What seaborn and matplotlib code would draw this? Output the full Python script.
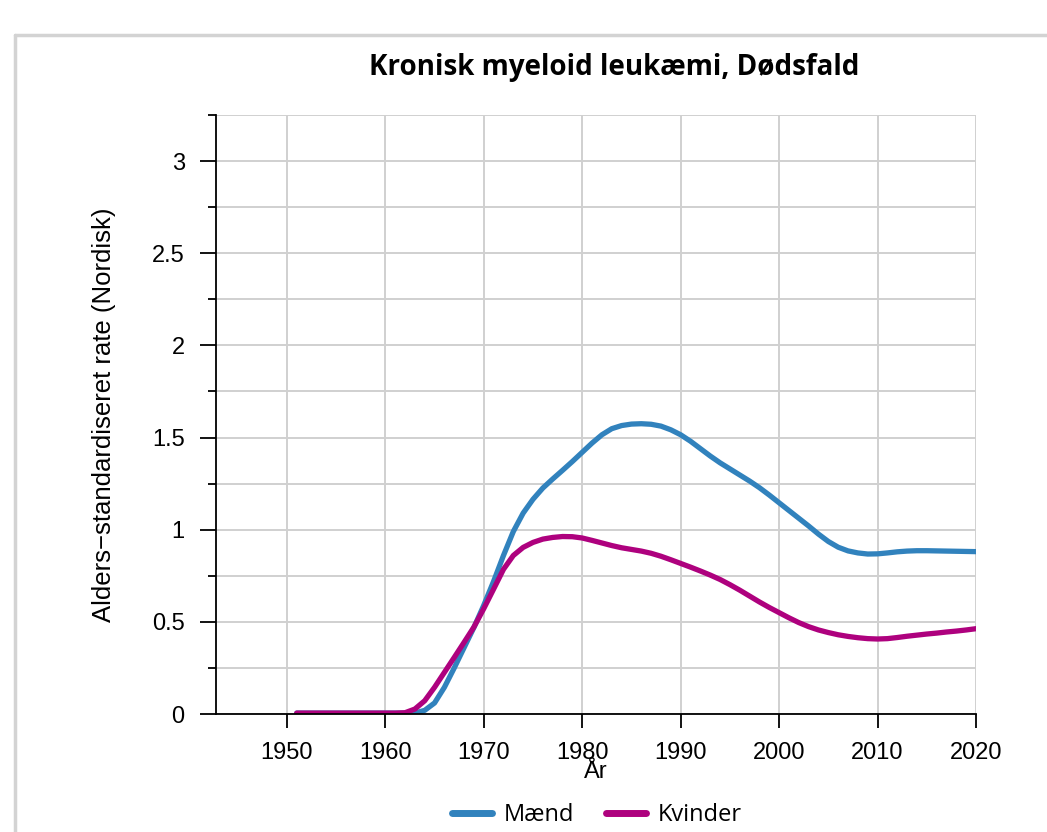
import pandas as pd
import seaborn as sns
import matplotlib.pyplot as plt
from matplotlib.lines import Line2D
from matplotlib.ticker import MultipleLocator

# Data
years = list(range(1951, 2021))

maend = [0.005] * 12 + [  # 1951-1962
    0.005, 0.02, 0.06, 0.145, 0.25, 0.36, 0.47, 0.59,            # 1963-1970
    0.72, 0.86, 0.99, 1.09, 1.165, 1.226, 1.275, 1.322, 1.37, 1.42,  # 1971-1980
    1.47, 1.515, 1.548, 1.565, 1.573, 1.575, 1.572, 1.562, 1.542, 1.515,  # 1981-1990
    1.48, 1.44, 1.40, 1.363, 1.33, 1.297, 1.264, 1.228, 1.188, 1.146,  # 1991-2000
    1.104, 1.062, 1.02, 0.976, 0.936, 0.905, 0.885, 0.874, 0.868, 0.869,  # 2001-2010
    0.874, 0.88, 0.884, 0.886, 0.886, 0.885, 0.884, 0.883, 0.882, 0.881,  # 2011-2020
]

kvinder = [0.005] * 11 + [  # 1951-1961
    0.007, 0.027, 0.072, 0.145, 0.226, 0.307, 0.389, 0.472, 0.572,  # 1962-1970
    0.678, 0.785, 0.86, 0.904, 0.931, 0.949, 0.958, 0.963, 0.962, 0.955,  # 1971-1980
    0.942, 0.928, 0.914, 0.902, 0.893, 0.884, 0.872, 0.856, 0.837, 0.817,  # 1981-1990
    0.797, 0.776, 0.754, 0.73, 0.702, 0.672, 0.64, 0.608, 0.578, 0.55,  # 1991-2000
    0.522, 0.496, 0.474, 0.456, 0.442, 0.43, 0.421, 0.414, 0.409, 0.407,  # 2001-2010
    0.409, 0.415, 0.422, 0.428, 0.434, 0.439, 0.445, 0.45, 0.456, 0.463,  # 2011-2020
]

groups = ["Mænd", "Kvinder"]
colors = ["#3182bd", "#ae017e"]

df = pd.concat([
    pd.DataFrame({"År": years, "rate": maend, "Køn": groups[0]}),
    pd.DataFrame({"År": years, "rate": kvinder, "Køn": groups[1]}),
])

sns.set_style("white")
plt.rcParams["font.family"] = ["Liberation Sans", "DejaVu Sans"]
plt.rcParams["text.color"] = "black"
plt.rcParams["axes.labelcolor"] = "black"

fig = plt.figure(figsize=(10.47, 8.32), dpi=100)
ax = fig.add_axes([0.2063, 0.1418, 0.7259, 0.72])

sns.lineplot(data=df, x="År", y="rate", hue="Køn", palette=dict(zip(groups, colors)),
             linewidth=3.8, ax=ax, legend=False)

ax.set_xlim(1942.8, 2020)
ax.set_ylim(0, 3.25)
ax.xaxis.set_major_locator(MultipleLocator(10))
ax.yaxis.set_minor_locator(MultipleLocator(0.25))
ax.set_yticks([0, 0.5, 1, 1.5, 2, 2.5, 3])
ax.set_yticklabels(["0", "0.5", "1", "1.5", "2", "2.5", "3"])

ax.grid(True, which="both", color="#d0d0d0", linewidth=1.4)
ax.grid(False, which="minor", axis="x")
ax.set_axisbelow(True)

for s in ["top", "right"]:
    ax.spines[s].set_visible(False)
for s in ["left", "bottom"]:
    ax.spines[s].set_color("black")
    ax.spines[s].set_linewidth(1.3)

ax.tick_params(axis="x", which="major", direction="out", length=10, width=1.3,
               colors="black", labelsize=17, pad=10, bottom=True)
ax.tick_params(axis="y", which="major", direction="out", length=11.5, width=1.3,
               colors="black", labelsize=17, pad=11, left=True)
ax.tick_params(axis="y", which="minor", direction="out", length=6, width=1.3,
               colors="black", left=True)

ax.set_xlabel("År", fontsize=17, labelpad=-2)
ax.set_ylabel("Alders−standardiseret rate (Nordisk)", fontsize=18.5, labelpad=26)

fig.text(0.587, 0.919, "Kronisk myeloid leukæmi, Dødsfald", ha="center", va="center",
         fontsize=20, fontweight="bold", family=["Open Sans", "DejaVu Sans"])

handles = [Line2D([0], [0], color=c, linewidth=5) for c in colors]
fig.legend(handles, groups, loc="center", bbox_to_anchor=(0.57, 0.02), ncol=2,
           frameon=False, handlelength=1.7, handletextpad=0.5, columnspacing=1.35,
           prop={"family": ["Open Sans", "DejaVu Sans"], "size": 17})

# thin frame around the chart panel
fig.add_artist(Line2D([15 / 1047, 1], [1 - 35 / 832, 1 - 35 / 832], color="#d3d3d3", linewidth=2.5))
fig.add_artist(Line2D([15 / 1047, 15 / 1047], [0, 1 - 35 / 832], color="#d3d3d3", linewidth=2.5))

fig.savefig("out.png", dpi=100)
